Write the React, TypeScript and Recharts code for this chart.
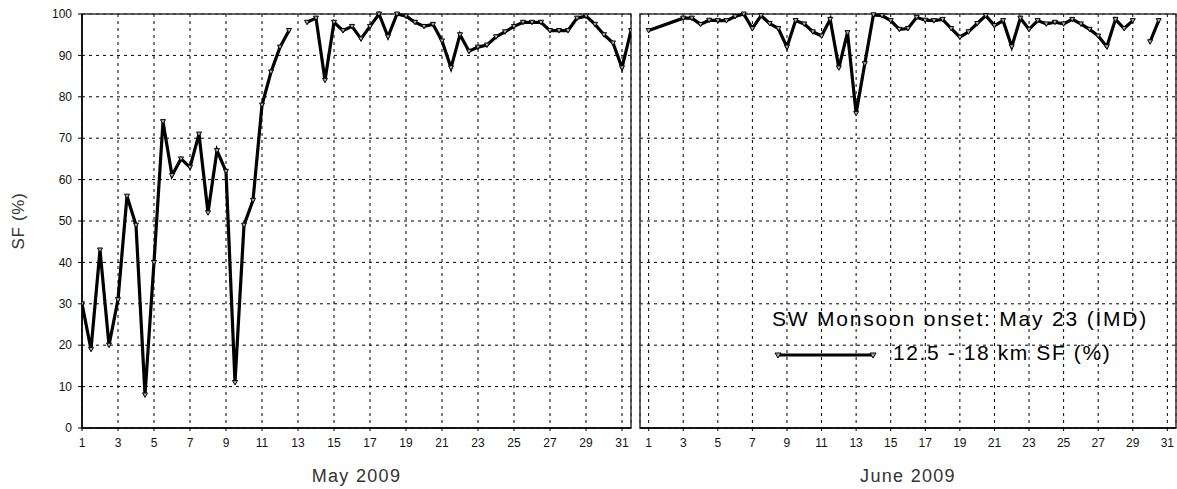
import React from 'react';
import { LineChart, Line, XAxis, YAxis, CartesianGrid, ReferenceArea, Legend, Label } from 'recharts';

const FONT = '"Liberation Sans", Arial, sans-serif';

const dayTicks = [1, 3, 5, 7, 9, 11, 13, 15, 17, 19, 21, 23, 25, 27, 29, 31];
const sfTicks = [0, 10, 20, 30, 40, 50, 60, 70, 80, 90, 100];

// May 2009, one value every half day from May 1 (null = no data)
const maySF = [
  30, 19, 43, 20, 31, 56, 49, 8, 40, 74,
  61, 65, 63, 71, 52, 67, 62, 11, 49, 55,
  78, 86, 92, 96, null, 98, 99, 84, 98, 96,
  97, 94, 97, 100, 94.5, 100, 99.5, 98, 97, 97.5,
  93.5, 87, 95, 91, 92, 92.5, 94.5, 95.7, 97, 98,
  98, 98, 96, 96, 96, 99, 99.5, 97.5, 95, 93,
  87, 96,
];
const mayDays = maySF.map((_, i) => 1 + i * 0.5);

// June 2009
const juneDays = [
  1, 3, 3.5, 4, 4.5, 5, 5.5, 6, 6.5, 7, 7.5, 8, 8.5, 9, 9.5, 10, 10.5,
  11, 11.5, 12, 12.5, 13, 13.5, 14, 14.5, 15, 15.5, 16, 16.5, 17, 17.5,
  18, 18.5, 19, 19.5, 20, 20.5, 21, 21.5, 22, 22.5, 23, 23.5, 24, 24.5,
  25, 25.5, 26, 26.5, 27, 27.5, 28, 28.5, 29, 29.5, 30, 30.5,
];
const juneSF = [
  96, 99, 99, 97.5, 98.5, 98.4, 98.4, 99.4, 100, 96.5, 99.6, 97.7, 96.5, 92, 98.4, 97.6, 95.7,
  94.7, 98.7, 87, 95.5, 76, 88, 99.8, 99.6, 98.4, 96.3, 96.5, 99.2, 98.5, 98.4,
  98.7, 96.5, 94.4, 95.7, 97.7, 99.6, 97.2, 98.4, 92.1, 99, 96.3, 98.4, 97.6, 98,
  97.6, 98.7, 97.6, 96.3, 94.7, 92.1, 98.7, 96.5, 98.4, null, 93.3, 98.4,
];

const mayData = mayDays.map((day, i) => ({ day, sf: maySF[i] }));
const juneData = juneDays.map((day, i) => ({ day, sf: juneSF[i] }));

const tickStyle = { fill: '#111', fontSize: 12, fontFamily: FONT };

const TriangleDot = (props: any) => {
  const { cx, cy, index, payload } = props;
  if (payload?.sf == null || cx == null || cy == null || isNaN(cy)) return <g key={`d${index}`} />;
  return (
    <path
      key={`d${index}`}
      d={`M${cx - 2.5},${cy - 2}L${cx + 2.5},${cy - 2}L${cx},${cy + 2.5}Z`}
      fill="#aaa"
      stroke="#000"
      strokeWidth={1}
    />
  );
};

const MonsoonLegend = () => (
  <div style={{ position: 'relative', width: 400, height: 70, fontFamily: FONT, color: '#000' }}>
    <div style={{ position: 'absolute', left: 0, top: 0, fontSize: 21, lineHeight: '24px', letterSpacing: 1.8, whiteSpace: 'nowrap' }}>
      SW Monsoon onset: May 23 (IMD)
    </div>
    <svg style={{ position: 'absolute', left: 0, top: 40 }} width={110} height={16}>
      <line x1={6} y1={8} x2={101} y2={8} stroke="#000" strokeWidth={3} />
      <path d="M3,6L9,6L6,11Z" fill="#aaa" stroke="#000" />
      <path d="M98,6L104,6L101,11Z" fill="#aaa" stroke="#000" />
    </svg>
    <div style={{ position: 'absolute', left: 121, top: 34, fontSize: 21, lineHeight: '24px', letterSpacing: 1.6, whiteSpace: 'nowrap' }}>
      12.5 - 18 km SF (%)
    </div>
  </div>
);

export default function App() {
  return (
    <div style={{ position: 'absolute', left: 0, top: 0, width: 1177, height: 489, background: '#fff' }}>
      <div style={{ position: 'absolute', left: 0, top: 0 }}>
        <LineChart width={640} height={489} data={mayData} margin={{ top: 14, right: 9, bottom: 0, left: 0 }}>
          <CartesianGrid stroke="#000" strokeDasharray="3 4" />
          <XAxis
            dataKey="day"
            type="number"
            domain={[1, 31.5]}
            ticks={dayTicks}
            allowDataOverflow
            height={61}
            tick={tickStyle}
            tickSize={3}
            tickMargin={7}
            stroke="#000"
            axisLine={{ stroke: '#000', strokeWidth: 1.5 }}
          >
            <Label value="May 2009" position="insideBottom" offset={7} style={{ fontSize: 18, fontFamily: FONT, fill: '#333', letterSpacing: 1.3 }} />
          </XAxis>
          <YAxis
            domain={[0, 100]}
            ticks={sfTicks}
            width={82}
            tick={tickStyle}
            tickSize={4}
            tickMargin={6}
            stroke="#000"
            axisLine={{ stroke: '#000', strokeWidth: 1.5 }}
          >
            <Label
              content={({ viewBox }: any) => (
                <text
                  x={18}
                  y={viewBox.y + viewBox.height / 2}
                  transform={`rotate(-90, 18, ${viewBox.y + viewBox.height / 2})`}
                  textAnchor="middle"
                  dominantBaseline="central"
                  style={{ fontSize: 17, fontFamily: FONT, fill: '#333', letterSpacing: 0.7 }}
                >
                  SF (%)
                </text>
              )}
            />
          </YAxis>
          <ReferenceArea x1={1} x2={31.5} y1={0} y2={100} fill="none" stroke="#333" strokeWidth={1.5} />
          <Line
            type="linear"
            dataKey="sf"
            stroke="#000"
            strokeWidth={3.2}
            dot={TriangleDot}
            activeDot={false}
            isAnimationActive={false}
          />
        </LineChart>
      </div>
      <div style={{ position: 'absolute', left: 632, top: 0 }}>
        <LineChart width={545} height={489} data={juneData} margin={{ top: 14, right: 1, bottom: 0, left: 8 }}>
          <CartesianGrid stroke="#000" strokeDasharray="3 4" />
          <XAxis
            dataKey="day"
            type="number"
            domain={[0.5, 31.5]}
            ticks={dayTicks}
            allowDataOverflow
            height={61}
            tick={tickStyle}
            tickSize={3}
            tickMargin={7}
            stroke="#000"
            axisLine={{ stroke: '#000', strokeWidth: 1.5 }}
          >
            <Label value="June 2009" position="insideBottom" offset={7} style={{ fontSize: 18, fontFamily: FONT, fill: '#333', letterSpacing: 1.3 }} />
          </XAxis>
          <YAxis hide domain={[0, 100]} ticks={sfTicks} />
          <ReferenceArea x1={0.5} x2={31.5} y1={0} y2={100} fill="none" stroke="#333" strokeWidth={1.5} />
          <Line
            type="linear"
            dataKey="sf"
            stroke="#000"
            strokeWidth={3.2}
            dot={TriangleDot}
            activeDot={false}
            isAnimationActive={false}
          />
          <Legend
            layout="horizontal"
            verticalAlign="middle"
            content={() => <MonsoonLegend />}
            wrapperStyle={{ left: 140, top: 307, width: 400, height: 70 }}
          />
        </LineChart>
      </div>
    </div>
  );
}
